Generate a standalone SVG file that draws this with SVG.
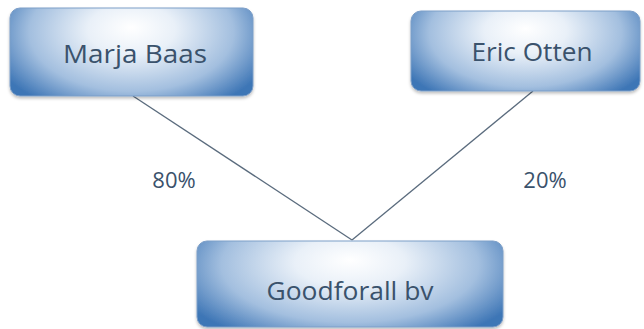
<svg xmlns="http://www.w3.org/2000/svg" width="644" height="329" viewBox="0 0 644 329">
<defs>
<radialGradient id="g" cx="0.5" cy="0.3" r="0.6" fx="0.5" fy="0.25" gradientTransform="translate(0.5,0.3) scale(1,1.6) translate(-0.5,-0.3)">
<stop offset="0" stop-color="#ffffff"/>
<stop offset="0.3" stop-color="#e9f0f8"/>
<stop offset="0.7" stop-color="#a3bfdf"/>
<stop offset="1" stop-color="#3e76b6"/>
</radialGradient>
<filter id="sh" x="-10%" y="-10%" width="120%" height="130%">
<feDropShadow dx="0" dy="2" stdDeviation="1.5" flood-color="#000" flood-opacity="0.25"/>
</filter>
</defs>
<style>
.box{fill:url(#g);stroke:#7d9fc8;stroke-width:1;filter:url(#sh)}
.lbl{font-family:"Open Sans","Liberation Sans",sans-serif;fill:#3a526c;text-anchor:middle}
.name{font-size:26px}
.pct{font-size:22px}
.conn{stroke:#5a6b7d;stroke-width:1.3;fill:none}
</style>
<rect width="644" height="329" fill="#ffffff"/>
<g id="connectors">
<line class="conn" x1="133" y1="96" x2="352" y2="240"/>
<line class="conn" x1="533" y1="91" x2="352" y2="240"/>
<text class="lbl pct" x="174" y="188">80%</text>
<text class="lbl pct" x="545" y="188">20%</text>
</g>
<g id="marja">
<rect class="box" x="10" y="8" width="243" height="88" rx="10"/>
<text class="lbl name" x="135" y="63" textLength="144" lengthAdjust="spacingAndGlyphs">Marja Baas</text>
</g>
<g id="eric">
<rect class="box" x="411" y="11" width="229" height="80" rx="10"/>
<text class="lbl name" x="532" y="61" textLength="121" lengthAdjust="spacingAndGlyphs">Eric Otten</text>
</g>
<g id="goodforall">
<rect class="box" x="197" y="241" width="306" height="86" rx="10"/>
<text class="lbl name" x="350" y="300" textLength="167" lengthAdjust="spacingAndGlyphs">Goodforall bv</text>
</g>
</svg>
